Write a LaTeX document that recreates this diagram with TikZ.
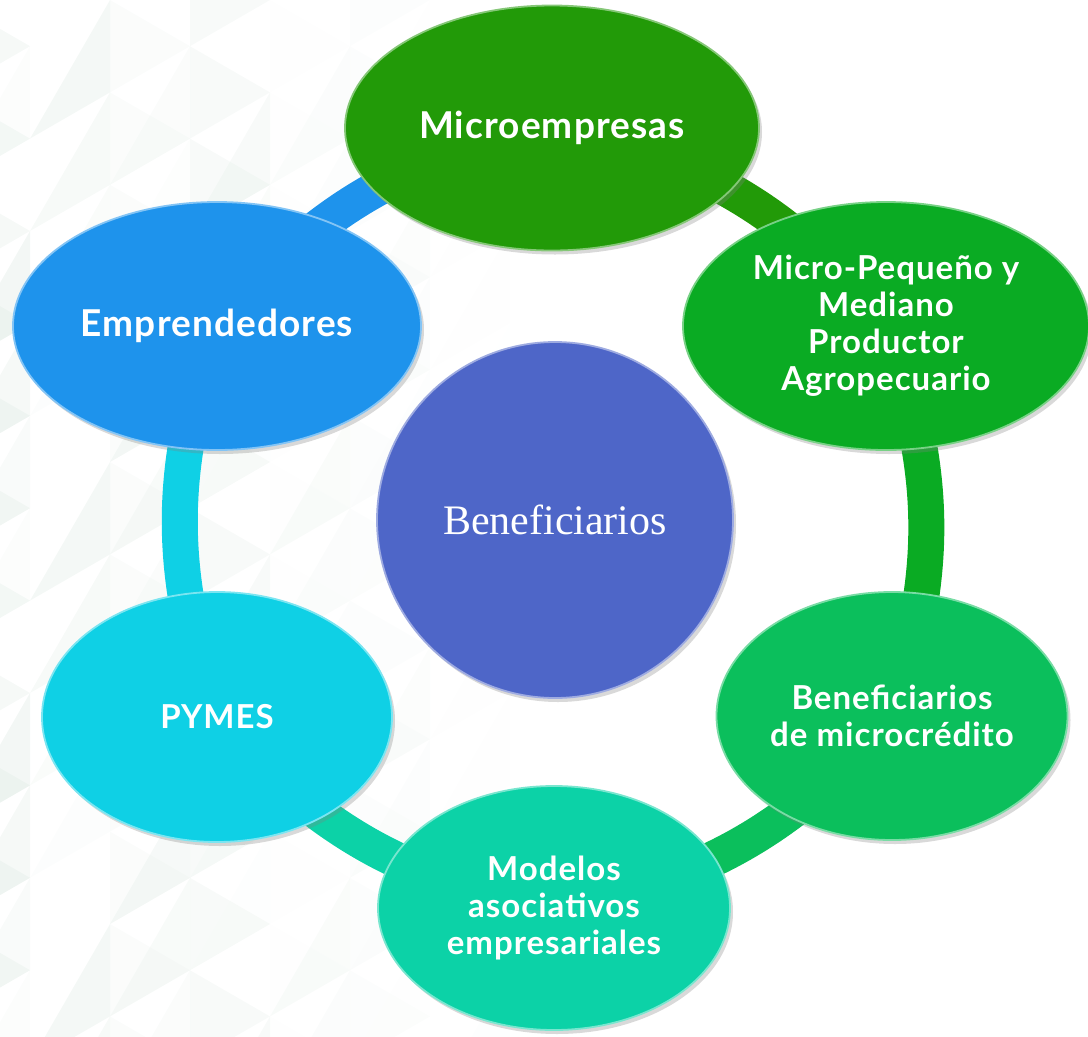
\documentclass[tikz,border=0pt]{standalone}
\usepackage{fontspec}
\newfontfamily\boxfont{Lato}[LetterSpace=3]
\newfontfamily\hubfont{Liberation Serif}
\usetikzlibrary{shapes.geometric, shadows, backgrounds}

\definecolor{empblue}{HTML}{1E93EC}
\definecolor{micgreen}{HTML}{229A08}
\definecolor{mpgreen}{HTML}{0AAB23}
\definecolor{bmcgreen}{HTML}{0BBF5C}
\definecolor{modteal}{HTML}{0CD2A7}
\definecolor{pymcyan}{HTML}{0FD0E5}
\definecolor{hubblue}{HTML}{4E66C8}
\definecolor{bgtri}{HTML}{D3E3DA}

\begin{document}
\begin{tikzpicture}[
  x=1pt, y=1pt,
  every node/.style={align=center},
  target/.style={ellipse, fill=#1, draw=#1!55!white, line width=1.8pt, text=white,
    inner sep=0pt, drop shadow={shadow xshift=3pt, shadow yshift=-4pt, opacity=.3}},
  big/.style={font=\boxfont\bfseries\fontsize{37}{44}\selectfont},
  small/.style={font=\boxfont\bfseries\fontsize{33}{37}\selectfont},
  hub/.style={circle, fill=hubblue, draw=hubblue!55!white, line width=1.8pt, text=white,
    minimum size=356, inner sep=0pt, font=\hubfont\fontsize{42}{48}\selectfont,
    drop shadow={shadow xshift=3pt, shadow yshift=-4pt, opacity=.3}},
  ring/.style={line width=36pt, draw=#1}
]
\useasboundingbox (0,0) rectangle (1088,-1037);

% centre and the six groups
\node[hub] (hub) at (555,-520) {Beneficiarios};
\node[target=micgreen, minimum width=414, minimum height=245, big] (micro) at (552,-128) {Microempresas};
\node[target=mpgreen, minimum width=406, minimum height=248, small] (mpma) at (886,-326) {Micro-Pequeño y\\Mediano\\Productor\\Agropecuario};
\node[target=bmcgreen, minimum width=351, minimum height=248, small] (bmc) at (892,-716) {Beneficiarios\\de microcrédito};
\node[target=modteal, minimum width=352, minimum height=244, small] (mod) at (554,-908) {Modelos\\asociativos\\empresariales};
\node[target=pymcyan, minimum width=350, minimum height=250, small] (pym) at (217,-717) {PYMES};
\node[target=empblue, minimum width=408, minimum height=248, big] (emp) at (217,-326) {Emprendedores};

\begin{scope}[on background layer]
  % faint triangle pattern on the left
  \foreach \c in {0,...,6}{
    \foreach \r in {0,...,12}{
      \pgfmathsetmacro\ya{-92.4*\r+46.2*mod(\c,2)}
      \pgfmathsetmacro\opa{0.07*mod(\c*7+\r*5+3,5)*(7-\c)/7}
      \pgfmathsetmacro\opb{0.07*mod(\c*3+\r*4+1,5)*(7-\c)/7}
      \fill[bgtri, opacity=\opa] (-50+80*\c,\ya) -- ++(0,-92.4) -- ++(80,46.2) -- cycle;
      \fill[bgtri, opacity=\opb] (30+80*\c,\ya-46.2) -- ++(0,-92.4) -- ++(-80,-46.2) -- cycle;
    }
  }
  % ring between the groups
  \draw[ring=empblue] (emp.center) to[bend left=19] (micro.center);
  \draw[ring=micgreen] (micro.center) to[bend left=19] (mpma.center);
  \draw[ring=mpgreen] (mpma.center) to[bend left=19] (bmc.center);
  \draw[ring=bmcgreen] (bmc.center) to[bend left=19] (mod.center);
  \draw[ring=modteal] (mod.center) to[bend left=19] (pym.center);
  \draw[ring=pymcyan] (pym.center) to[bend left=19] (emp.center);
\end{scope}
\end{tikzpicture}
\end{document}
